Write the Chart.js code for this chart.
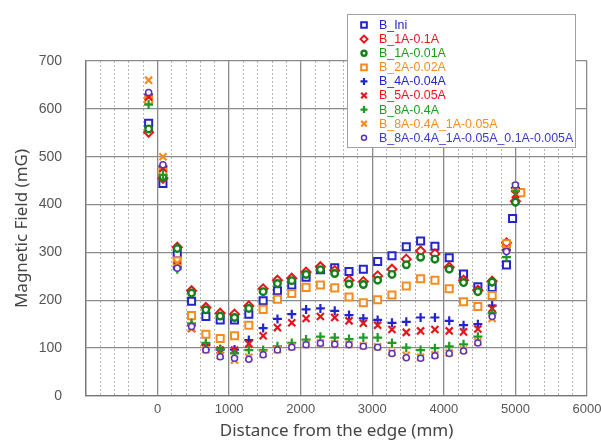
<!DOCTYPE html>
<html>
<head>
<meta charset="utf-8">
<script src="https://cdn.jsdelivr.net/npm/chart.js@4.4.1/dist/chart.umd.min.js"></script>
<style>
  html, body { margin: 0; padding: 0; background: #fff; }
  #wrap { width: 601px; height: 440px; }
</style>
</head>
<body>
<div id="wrap"><canvas id="fieldChart" width="601" height="440"></canvas></div>
<script>
// distance from the edge (mm) for each measuring position
const distances = [-125, 75, 275, 475, 675, 875, 1075, 1275, 1475, 1675, 1875, 2075, 2275, 2475,
  2675, 2875, 3075, 3275, 3475, 3675, 3875, 4075, 4275, 4475, 4675, 4875, 5000];
const distancesIni = [-125, 75, 275, 475, 675, 875, 1075, 1275, 1475, 1675, 1875, 2075, 2275, 2475,
  2675, 2875, 3075, 3275, 3475, 3675, 3875, 4075, 4275, 4475, 4675, 4875, 4960];
const distances2A = [-125, 75, 275, 475, 675, 875, 1075, 1275, 1475, 1675, 1875, 2075, 2275, 2475,
  2675, 2875, 3075, 3275, 3475, 3675, 3875, 4075, 4275, 4475, 4675, 4875, 5075];

// magnetic field (mG)
const bIni = [570, 444, 297, 198, 166, 159, 159, 171, 199, 220, 232, 248, 264, 268, 260, 265, 281, 293, 312, 324, 313, 289, 255, 228, 227, 274, 371];
const b1A01 = [551, 455, 311, 220, 185, 173, 171, 188, 224, 242, 246, 259, 270, 262, 242, 239, 251, 265, 286, 303, 297, 269, 242, 221, 240, 320, 407];
const b1A001 = [558, 458, 308, 215, 180, 167, 164, 183, 218, 235, 241, 254, 264, 256, 234, 233, 242, 254, 274, 290, 286, 265, 237, 218, 238, 313, 405];
const b2A = [618, 469, 282, 168, 129, 120, 126, 148, 181, 202, 214, 227, 232, 226, 207, 195, 201, 211, 230, 245, 242, 224, 197, 187, 210, 318, 425];
const b4A = [630, 480, 270, 148, 107, 97, 97, 117, 142, 161, 171, 181, 183, 178, 169, 162, 159, 153, 155, 164, 164, 157, 148, 150, 189, 305, 435];
const b5A = [625, 476, 272, 141, 103, 96, 96, 109, 126, 143, 153, 162, 166, 164, 157, 152, 148, 139, 133, 136, 139, 136, 134, 140, 183, 310, 421];
const b8A = [609, 462, 265, 152, 111, 98, 89, 96, 96, 104, 111, 118, 124, 122, 119, 122, 122, 111, 101, 96, 100, 104, 108, 124, 173, 290, 428];
const b8A1A = [660, 500, 278, 143, 97, 84, 75, 81, 88, 97, 103, 108, 111, 109, 108, 105, 103, 91, 85, 81, 86, 90, 96, 113, 162, 308, 438];
const b8A1A01A = [634, 483, 267, 145, 96, 82, 79, 77, 86, 96, 102, 107, 110, 108, 107, 104, 102, 89, 80, 79, 84, 89, 94, 111, 166, 302, 441];

const seriesNames = ['B_Ini', 'B_1A-0.1A', 'B_1A-0.01A', 'B_2A-0.02A', 'B_4A-0.04A', 'B_5A-0.05A',
  'B_8A-0.4A', 'B_8A-0.4A_1A-0.05A', 'B_8A-0.4A_1A-0.05A_0.1A-0.005A'];

const BLUE = '#2424cc', RED = '#e8141c', GREEN = '#17801a', ORANGE = '#f68c1f', PURPLE = '#5a34b8';

function pts(xs, ys) {
  return ys.map((v, i) => ({ x: xs[i], y: v }));
}

function series(i, xs, ys, style, color, radius, width, textColor) {
  return {
    label: seriesNames[i],
    data: pts(xs, ys),
    pointStyle: style,
    pointRadius: radius,
    pointHoverRadius: radius,
    pointBorderWidth: width,
    borderColor: color,
    backgroundColor: '#fff',
    pointBackgroundColor: '#fff',
    showLine: false,
    order: 9 - i,          // later series drawn on top
    textColor: textColor || color
  };
}

const datasets = [
  series(0, distancesIni, bIni, 'rect', BLUE, 5, 2),
  series(1, distances, b1A01, 'rectRot', RED, 4.5, 2),
  series(2, distances, b1A001, 'circle', GREEN, 3.3, 2.4, '#1c9a1c'),
  series(3, distances2A, b2A, 'rect', ORANGE, 5, 2),
  series(4, distances, b4A, 'cross', BLUE, 4.5, 2.2),
  series(5, distances, b5A, 'crossRot', RED, 5, 2.2),
  series(6, distances, b8A, 'cross', '#1f9a22', 4.5, 2.2),
  series(7, distances, b8A1A, 'crossRot', ORANGE, 5, 2.2),
  series(8, distances, b8A1A01A, 'circle', PURPLE, 3, 1.5, '#3a3acc')
];

// legend drawn as a framed box over the top right corner
const legendBox = {
  id: 'legendBox',
  afterDraw(chart) {
    const ctx = chart.ctx;
    const x0 = 347, y0 = 14, w = 228, h = 133;
    ctx.save();
    ctx.fillStyle = '#fff';
    ctx.fillRect(x0, y0, w, h);
    ctx.strokeStyle = '#a0a0a0';
    ctx.lineWidth = 1;
    ctx.strokeRect(x0 + 0.5, y0 + 0.5, w, h);
    ctx.font = '12.4px "Liberation Sans", Arial, sans-serif';
    ctx.textBaseline = 'middle';
    ctx.textAlign = 'left';
    chart.data.datasets.forEach((ds, i) => {
      const y = y0 + 11 + i * 14.1;
      const mx = x0 + 17;
      ctx.strokeStyle = ds.borderColor;
      ctx.fillStyle = '#fff';
      ctx.lineWidth = ds.pointBorderWidth;
      if (Chart.helpers && Chart.helpers.drawPoint) {
        Chart.helpers.drawPoint(ctx, {
          pointStyle: ds.pointStyle,
          radius: Math.max(2.5, ds.pointRadius - 1),
          borderWidth: ds.pointBorderWidth,
          rotation: 0
        }, mx, y);
      }
      ctx.fillStyle = ds.textColor;
      ctx.fillText(ds.label, x0 + 32, y + 0.5);
    });
    ctx.restore();
  }
};

const ctx = document.getElementById('fieldChart').getContext('2d');
new Chart(ctx, {
  type: 'scatter',
  data: { datasets: datasets },
  plugins: [legendBox],
  options: {
    responsive: false,
    animation: false,
    devicePixelRatio: 1,
    layout: { padding: { top: 61, right: 14, left: 0, bottom: 0 } },
    plugins: {
      legend: { display: false },
      tooltip: { enabled: false }
    },
    scales: {
      x: {
        type: 'linear',
        min: -1000,
        max: 6000,
        afterFit: s => { s.height = 44; s.paddingLeft = 0; s.paddingRight = 0; },
        ticks: {
          stepSize: 200,
          autoSkip: false,
          maxRotation: 0,
          padding: 6,
          color: '#555',
          font: { family: '"Liberation Sans", Arial, sans-serif', size: 13 },
          callback: v => (v >= 0 && v % 1000 === 0) ? String(v) : ''
        },
        grid: {
          drawTicks: false,
          color: c => (c.tick && c.tick.value % 1000 === 0) ? '#8a8a8a' : '#b4b4b4',
          lineWidth: c => (c.tick && c.tick.value % 1000 === 0) ? 1.3 : 1
        },
        border: {
          color: '#777',
          width: 1.3,
          dash: c => (c.tick && c.tick.value % 1000 !== 0) ? [2, 2] : []
        },
        title: {
          display: true,
          text: 'Distance from the edge (mm)',
          color: '#444',
          padding: { top: 0, bottom: 0 },
          font: { family: '"Noto Sans", sans-serif', size: 17, lineHeight: 1 }
        }
      },
      y: {
        min: 0,
        max: 700,
        afterFit: s => { s.width = 86; s.paddingTop = 0; s.paddingBottom = 0; },
        ticks: {
          stepSize: 100,
          padding: 24,
          color: '#555',
          font: { family: '"Liberation Sans", Arial, sans-serif', size: 14 }
        },
        grid: { drawTicks: false, color: '#8a8a8a', lineWidth: 1.3 },
        border: { color: '#777', width: 1.3 },
        title: {
          display: true,
          text: 'Magnetic Field (mG)',
          color: '#444',
          padding: { top: 12, bottom: 0 },
          font: { family: '"Noto Sans", sans-serif', size: 17 }
        }
      }
    }
  }
});
</script>
</body>
</html>
